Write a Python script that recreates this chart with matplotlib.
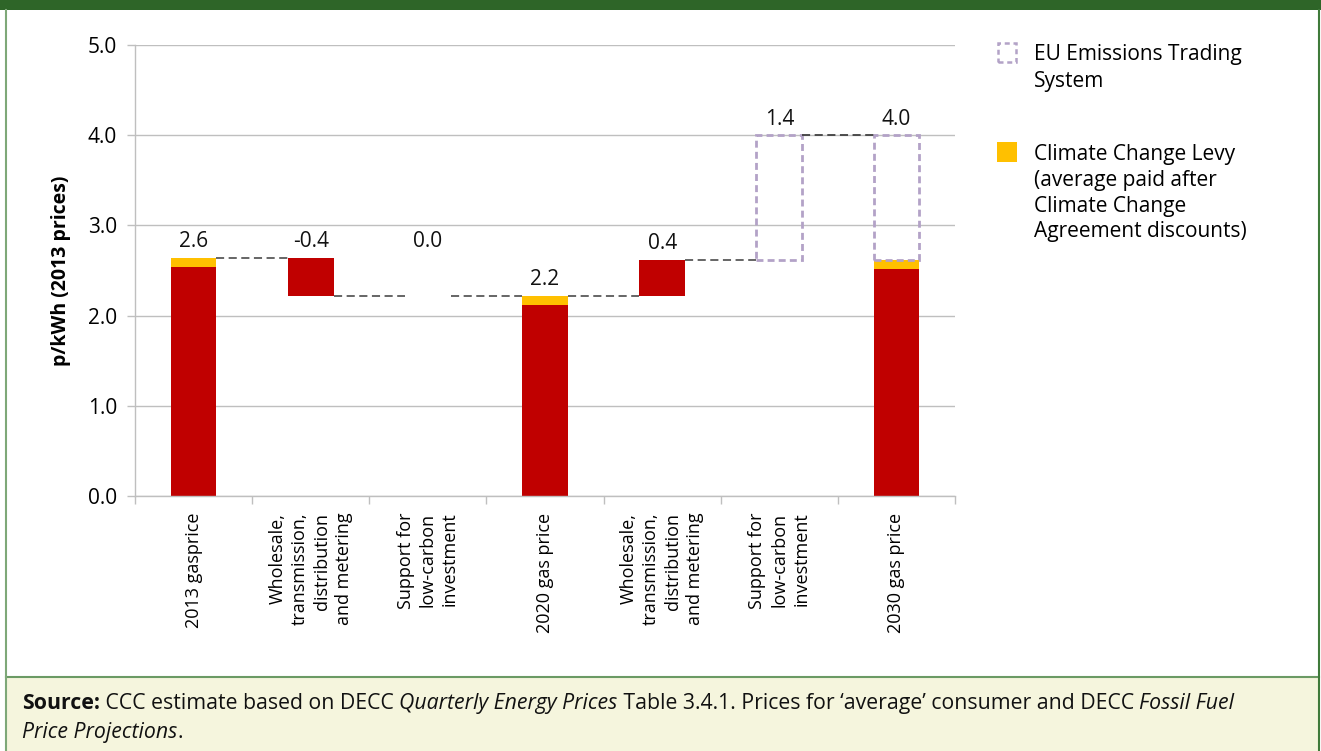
import matplotlib
matplotlib.use("Agg")
import matplotlib.pyplot as plt
from matplotlib.patches import Rectangle
from matplotlib.lines import Line2D

# categories of the waterfall and the pieces that make up each bar (p/kWh, 2013 prices)
categories = [
    "2013 gasprice",
    "Wholesale,\ntransmission,\ndistribution\nand metering",
    "Support for\nlow-carbon\ninvestment",
    "2020 gas price",
    "Wholesale,\ntransmission,\ndistribution\nand metering",
    "Support for\nlow-carbon\ninvestment",
    "2030 gas price",
]
is_total = [True, False, False, True, False, False, True]
gas_cost = [2.54, -0.42, 0.0, 2.12, 0.40, 0.0, 2.52]
levy = [0.10, 0.0, 0.0, 0.10, 0.0, 0.0, 0.10]
ets = [0.0, 0.0, 0.0, 0.0, 0.0, 1.38, 1.38]

legend_labels = [
    "EU Emissions Trading\nSystem",
    "Climate Change Levy\n(average paid after\nClimate Change\nAgreement discounts)",
]

RED = "#c00000"
YELLOW = "#ffc000"
LAVENDER = "#b3a2c7"
GRID = "#bfbfbf"
FONT = "Open Sans"
FS = 15
CAT_FS = 13

plt.rcParams["font.family"] = [FONT, "DejaVu Sans"]

W, H = 1321, 751
fig = plt.figure(figsize=(W / 100, H / 100), dpi=100)


def fx(px):
    return px / W


def fy(py):
    return 1 - py / H


# page furniture: green header strip, side rules, source panel
fig.add_artist(Rectangle((0, fy(10)), 1, fy(0) - fy(10), transform=fig.transFigure,
                         facecolor="#2e6528", edgecolor="none"))
fig.add_artist(Rectangle((fx(6), 0), fx(1319) - fx(6), fy(677), transform=fig.transFigure,
                         facecolor="#f5f5dd", edgecolor="none"))
fig.add_artist(Line2D([fx(6), fx(1319)], [fy(677), fy(677)], transform=fig.transFigure,
                      color="#6b9a64", lw=1.5))
fig.add_artist(Line2D([fx(6), fx(6)], [0, fy(10)], transform=fig.transFigure,
                      color="#7ea878", lw=1.5))
fig.add_artist(Line2D([fx(1319), fx(1319)], [0, fy(10)], transform=fig.transFigure,
                      color="#3f7a3a", lw=1.5))

ax = fig.add_axes([fx(135), fy(496), fx(955) - fx(135), fy(45) - fy(496)])
ax.set_xlim(-0.5, len(categories) - 0.5)
ax.set_ylim(0, 5)
ax.set_axisbelow(True)

width = 0.39
level = 0.0
prev_top = 0.0
levels = []
for i, total in enumerate(is_total):
    change = gas_cost[i] + levy[i] + ets[i]
    if total:
        ax.bar(i, gas_cost[i], width, color=RED)
        ax.bar(i, levy[i], width, bottom=gas_cost[i], color=YELLOW)
        base = gas_cost[i] + levy[i]
        if ets[i]:
            ax.bar(i, ets[i], width, bottom=base, fill=False, edgecolor=LAVENDER,
                   linewidth=2, linestyle=(0, (2.5, 1.5)))
        start, level = 0.0, change
        top = level
        value = level
    else:
        start = level
        if gas_cost[i]:
            ax.bar(i, gas_cost[i], width, bottom=start, color=RED)
        if ets[i]:
            ax.bar(i, ets[i], width, bottom=start, fill=False, edgecolor=LAVENDER,
                   linewidth=2, linestyle=(0, (2.5, 1.5)))
        level = start + change
        top = max(start, level, prev_top)
        value = change
    ax.annotate(f"{value:.1f}", (i, top), xytext=(0, 4), textcoords="offset points",
                ha="center", va="bottom", fontsize=FS, color="#111111")
    prev_top = max(start, level)
    levels.append(level)

# dashed connectors between neighbouring bars
for i in range(len(categories) - 1):
    ax.plot([i + width / 2, i + 1 - width / 2], [levels[i], levels[i]],
            color="#404040" if i == len(categories) - 2 else "#595959",
            lw=1.3, linestyle=(0, (4.5, 2.5)), zorder=1)

ax.set_yticks([0, 1, 2, 3, 4, 5])
ax.set_yticklabels([f"{v:.1f}" for v in [0, 1, 2, 3, 4, 5]])
ax.grid(axis="y", color=GRID, lw=1)
ax.set_xticks(range(len(categories)))
ax.set_xticklabels(categories, rotation=90, fontsize=CAT_FS, multialignment="right",
                   va="top", ha="center", linespacing=1.3)
ax.set_xticks([i - 0.5 for i in range(len(categories) + 1)], minor=True)
ax.tick_params(axis="x", which="major", length=0, pad=12)
ax.tick_params(axis="x", which="minor", length=6, color=GRID, width=1)
ax.tick_params(axis="y", length=6, color=GRID, width=1, pad=7, labelsize=FS)
for side in ("top", "right"):
    ax.spines[side].set_visible(False)
for side in ("left", "bottom"):
    ax.spines[side].set_color(GRID)
    ax.spines[side].set_linewidth(1)
ax.set_ylabel("p/kWh (2013 prices)", fontsize=14, fontweight="bold", labelpad=12)

# legend drawn by hand so that multi-line labels sit beside their keys
fig.add_artist(Rectangle((fx(998), fy(62)), fx(18), fy(43) - fy(62), transform=fig.transFigure,
                         facecolor="none", edgecolor=LAVENDER, lw=1.8, linestyle=(0, (2, 1.5))))
fig.add_artist(Rectangle((fx(997), fy(162)), fx(20), fy(142) - fy(162), transform=fig.transFigure,
                         facecolor=YELLOW, edgecolor="none"))
fig.text(fx(1034), fy(44), legend_labels[0], fontsize=FS, va="top", ha="left", linespacing=1.38)
fig.text(fx(1034), fy(144), legend_labels[1], fontsize=FS, va="top", ha="left", linespacing=1.3)

# source note with mixed bold / italic runs
source_lines = [
    [("Source:", "bold", "normal"), (" CCC estimate based on DECC ", "normal", "normal"),
     ("Quarterly Energy Prices", "normal", "italic"),
     (" Table 3.4.1. Prices for \u2018average\u2019 consumer and DECC ", "normal", "normal"),
     ("Fossil Fuel", "normal", "italic")],
    [("Price Projections", "normal", "italic"), (".", "normal", "normal")],
]
renderer = fig.canvas.get_renderer()
SRC_FS = 15.3


def run_width(s, weight, style):
    probe = fig.text(0, 0, "|" + s + "|", fontsize=SRC_FS, fontweight=weight, fontstyle=style)
    bars = fig.text(0, 0, "||", fontsize=SRC_FS, fontweight=weight, fontstyle=style)
    w = probe.get_window_extent(renderer).width - bars.get_window_extent(renderer).width
    probe.remove()
    bars.remove()
    return w


for row, runs in enumerate(source_lines):
    x = 22
    y = 709 + row * 29
    for s, weight, style in runs:
        fig.text(fx(x), fy(y), s, fontsize=SRC_FS, fontweight=weight, fontstyle=style,
                 va="baseline", ha="left", color="#111111")
        x += run_width(s, weight, style)

fig.savefig("out.png", dpi=100)
